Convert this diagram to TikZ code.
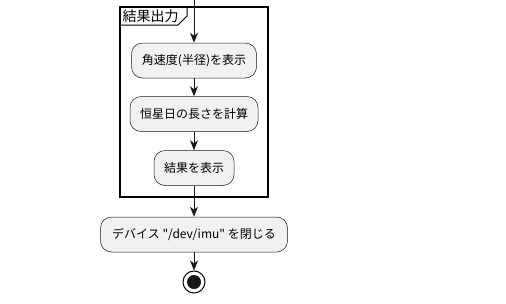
\documentclass[tikz,border=0pt]{standalone}
\usepackage{fontspec}
\setmainfont{Noto Sans CJK JP}[Ligatures=TeXOff]
\usetikzlibrary{arrows.meta}
\definecolor{boxfill}{HTML}{F1F1F1}
\definecolor{linec}{HTML}{181818}
\tikzset{
  act/.style={draw=linec, line width=0.5pt, fill=boxfill, rounded corners=11pt,
    minimum height=35pt, inner sep=0pt, font=\fontsize{12}{14}\selectfont, text=black},
  flow/.style={draw=linec, line width=1pt, -{Stealth[length=10pt,width=8pt,inset=3pt]}},
}
\begin{document}
\begin{tikzpicture}[x=1pt,y=-1pt]
\useasboundingbox (0,0) rectangle (506,303);
% frame
\draw[line width=1.3pt, draw=black] (120,7) rectangle (268,197);
\draw[line width=1pt, draw=black] (120,25) -- (178,25) -- (187,16) -- (187,7);
\node[anchor=west, inner sep=0pt, font=\fontsize{14}{16}\selectfont] (lbl) at (122.5,16) {結果出力};
% actions
\coordinate (top) at (194,0);
\node[act, minimum width=125pt] (a1) at (194,60.5) {角速度(半径)を表示};
\node[act, minimum width=128pt] (a2) at (194,114) {恒星日の長さを計算};
\node[act, minimum width=80pt] (a3) at (194,168) {結果を表示};
\node[act, minimum width=187pt] (a4) at (194,234.5) {デバイス "/dev/imu" を閉じる};
% end
\node[circle, draw=black, line width=1pt, fill=white, minimum size=22pt, inner sep=0pt] (end) at (194,282) {};
\node[circle, fill=linec!90!black, minimum size=14pt, inner sep=0pt] (endin) at (end.center) {};
% flows
\draw[flow] (top) -- (a1.north);
\draw[flow] (a1) -- (a2.north);
\draw[flow] (a2) -- (a3.north);
\draw[flow] (a3) -- (a4.north);
\draw[flow] (a4) -- (end.north);
\end{tikzpicture}
\end{document}
